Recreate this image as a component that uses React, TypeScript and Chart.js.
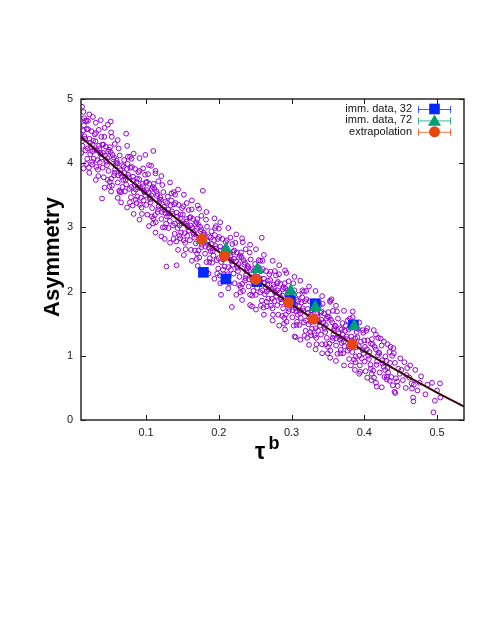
import React, { useEffect, useRef } from 'react';
import { Chart, registerables } from 'chart.js';

Chart.register(...registerables);

const X_MIN = 0.0106;
const X_MAX = 0.537;
const Y_MIN = 0;
const Y_MAX = 5;
const X_TICKS = [0.1, 0.2, 0.3, 0.4, 0.5];
const Y_TICKS = [0, 1, 2, 3, 4, 5];

const Y_TITLE = 'Asymmetry';
const X_TITLE_MAIN = 'τ';
const X_TITLE_SUP = 'b';

const LABELS = ['imm. data, 32', 'imm. data, 72', 'extrapolation'];

// fitted curve
const fitX = [0.0106, 0.05, 0.1, 0.15, 0.2, 0.25, 0.3, 0.35, 0.4, 0.45, 0.5, 0.537];
const fitY = [4.41, 4.012, 3.526, 3.062, 2.62, 2.199, 1.801, 1.425, 1.07, 0.738, 0.428, 0.21];

const imm32X = [0.1788, 0.2096, 0.2523, 0.2985, 0.3325, 0.385];
const imm32Y = [2.3, 2.196, 2.154, 1.86, 1.81, 1.48];
const imm72X = [0.1766, 0.21, 0.253, 0.2988, 0.3325, 0.386];
const imm72Y = [2.8, 2.66, 2.35, 2.01, 1.755, 1.46];
const extrapX = [0.1766, 0.2077, 0.251, 0.2958, 0.33, 0.3834];
const extrapY = [2.815, 2.555, 2.19, 1.833, 1.57, 1.18];

// scattered samples
const cloud: [number, number][] = [
  [0.012, 4.88], [0.016, 4.66], [0.0103, 4.45], [0.0171, 4.2], [0.0146, 4.59], [0.0118, 4.34], [0.0192, 4.07], [0.0155, 4.42], [0.0127, 4.27], [0.0184, 4.53], [0.0109, 4.16], [0.0163, 4.38], [0.0136, 4.51], [0.0197, 4.23], [0.0112, 4.39], [0.015, 4.7], [0.0178, 3.99],
  [0.027, 4.72], [0.0288, 4.21], [0.0221, 4.38], [0.0259, 4.02], [0.0205, 4.53], [0.0267, 4.29], [0.0233, 4.14], [0.0295, 4.45], [0.0215, 3.93], [0.0274, 4.35], [0.0242, 4.25], [0.0201, 4.66], [0.0281, 4.07], [0.0229, 4.32], [0.026, 4.18], [0.0249, 4.5],
  [0.0377, 4.67], [0.0395, 3.45], [0.0352, 4.27], [0.039, 4.09], [0.0311, 4.47], [0.0338, 3.9], [0.0376, 4.14], [0.0306, 4.34], [0.0365, 4.01], [0.0324, 4.2], [0.0386, 4.41], [0.0344, 3.8], [0.0399, 4.29], [0.033, 4.05], [0.037, 4.16], [0.0317, 3.94], [0.0357, 4.23],
  [0.0475, 4.6], [0.0403, 3.93], [0.0471, 4.08], [0.0446, 4.26], [0.0418, 3.78], [0.0492, 4.21], [0.0455, 4.02], [0.0427, 4.41], [0.0484, 3.88], [0.0409, 4.16], [0.0463, 3.97], [0.0436, 4.12], [0.0497, 3.64], [0.0412, 4.29], [0.045, 4.05], [0.0478, 4.18],
  [0.0514, 4.65], [0.0638, 3.55], [0.0588, 4.0], [0.0521, 3.76], [0.0559, 4.09], [0.0505, 4.25], [0.0567, 3.85], [0.0533, 3.65], [0.0595, 4.04], [0.0515, 4.17], [0.0574, 3.9], [0.0542, 4.13], [0.0501, 3.71], [0.0581, 3.96], [0.0529, 4.41], [0.056, 3.81], [0.0549, 4.06],
  [0.0652, 3.84], [0.069, 3.95], [0.0611, 3.7], [0.0638, 4.12], [0.0676, 3.63], [0.0606, 4.0], [0.0665, 3.79], [0.0624, 4.23], [0.0686, 3.74], [0.0644, 3.89], [0.0699, 4.05], [0.063, 3.57], [0.067, 3.97], [0.0617, 3.81], [0.0657, 3.39],
  [0.0727, 4.46], [0.0703, 3.85], [0.0771, 3.6], [0.0746, 3.99], [0.0718, 3.74], [0.0792, 3.47], [0.0755, 3.82], [0.0727, 3.67], [0.0784, 3.93], [0.0709, 3.56], [0.0763, 3.78], [0.0736, 3.91], [0.0797, 3.63], [0.0712, 3.79], [0.075, 4.1], [0.0778, 3.39],
  [0.0888, 3.62], [0.0821, 3.79], [0.0859, 3.43], [0.0805, 3.94], [0.0867, 3.7], [0.0833, 3.55], [0.0895, 3.86], [0.0815, 3.34], [0.0874, 3.76], [0.0842, 3.66], [0.0801, 4.07], [0.0881, 3.48], [0.0829, 3.73], [0.086, 3.59], [0.0849, 3.91],
  [0.099, 4.13], [0.0952, 3.68], [0.099, 3.5], [0.0911, 3.88], [0.0938, 3.31], [0.0976, 3.55], [0.0906, 3.75], [0.0965, 3.42], [0.0924, 3.61], [0.0986, 3.82], [0.0944, 3.21], [0.0999, 3.7], [0.093, 3.46], [0.097, 3.57], [0.0917, 3.35], [0.0957, 3.64],
  [0.11, 4.19], [0.107, 3.96], [0.1003, 3.35], [0.1071, 3.5], [0.1046, 3.68], [0.1018, 3.2], [0.1092, 3.63], [0.1055, 3.44], [0.1027, 3.83], [0.1084, 3.3], [0.1009, 3.58], [0.1063, 3.39], [0.1036, 3.54], [0.1097, 3.06], [0.1012, 3.71], [0.105, 3.47], [0.1078, 3.6],
  [0.1188, 3.43], [0.1121, 3.19], [0.1159, 3.52], [0.1105, 3.68], [0.1167, 3.28], [0.1133, 3.08], [0.1195, 3.47], [0.1115, 3.6], [0.1174, 3.33], [0.1142, 3.56], [0.1101, 3.14], [0.1181, 3.39], [0.1129, 3.84], [0.116, 3.24], [0.1149, 3.49],
  [0.1252, 3.27], [0.129, 3.38], [0.1211, 3.13], [0.1238, 3.55], [0.1276, 3.06], [0.1206, 3.43], [0.1265, 3.22], [0.1224, 3.66], [0.1286, 3.17], [0.1244, 3.32], [0.1299, 3.48], [0.123, 3.0], [0.127, 3.4], [0.1217, 3.24], [0.1257, 2.82],
  [0.178, 3.57], [0.1303, 3.28], [0.1371, 3.03], [0.1346, 3.42], [0.1318, 3.17], [0.1392, 2.9], [0.1355, 3.25], [0.1327, 3.1], [0.1384, 3.36], [0.1309, 2.99], [0.1363, 3.21], [0.1336, 3.34], [0.1397, 3.06], [0.1312, 3.22], [0.135, 3.53], [0.1378, 2.82],
  [0.1488, 3.06], [0.1421, 3.23], [0.1459, 2.87], [0.1405, 3.38], [0.1467, 3.14], [0.1433, 2.99], [0.1495, 3.3], [0.1415, 2.78], [0.1474, 3.2], [0.1442, 3.1], [0.1401, 3.51], [0.1481, 2.92], [0.1429, 3.17], [0.146, 3.03], [0.1449, 3.35],
  [0.1552, 3.13], [0.159, 2.95], [0.1511, 3.33], [0.1538, 2.76], [0.1576, 3.0], [0.1506, 3.2], [0.1565, 2.87], [0.1524, 3.06], [0.1586, 3.27], [0.1544, 2.66], [0.1599, 3.15], [0.153, 2.91], [0.157, 3.02], [0.1517, 2.8], [0.1557, 3.09],
  [0.1603, 2.8], [0.1671, 2.95], [0.1646, 3.13], [0.1618, 2.65], [0.1692, 3.08], [0.1655, 2.89], [0.1627, 3.28], [0.1684, 2.75], [0.1609, 3.03], [0.1663, 2.84], [0.1636, 2.99], [0.1697, 2.51], [0.1612, 3.16], [0.165, 2.92], [0.1678, 3.05],
  [0.128, 2.39], [0.142, 2.41], [0.1788, 2.88], [0.1721, 2.64], [0.1759, 2.97], [0.1705, 3.13], [0.1767, 2.73], [0.1733, 2.53], [0.1795, 2.92], [0.1715, 3.05], [0.1774, 2.78], [0.1742, 3.01], [0.1701, 2.59], [0.1781, 2.84], [0.1729, 3.29], [0.176, 2.69], [0.1749, 2.94],
  [0.1852, 2.73], [0.189, 2.84], [0.1811, 2.59], [0.1838, 3.01], [0.1876, 2.52], [0.1806, 2.89], [0.1865, 2.68], [0.1824, 3.12], [0.1886, 2.63], [0.1844, 2.78], [0.1899, 2.94], [0.183, 2.46], [0.187, 2.86], [0.1817, 2.7], [0.1857, 2.28],
  [0.1903, 2.74], [0.1971, 2.49], [0.1946, 2.88], [0.1918, 2.63], [0.1992, 2.36], [0.1955, 2.71], [0.1927, 2.56], [0.1984, 2.82], [0.1909, 2.45], [0.1963, 2.67], [0.1936, 2.8], [0.1997, 2.52], [0.1912, 2.68], [0.195, 2.99], [0.1978, 2.28],
  [0.203, 1.95], [0.218, 1.76], [0.2088, 2.53], [0.2021, 2.7], [0.2059, 2.34], [0.2005, 2.85], [0.2067, 2.61], [0.2033, 2.46], [0.2095, 2.77], [0.2015, 2.25], [0.2074, 2.67], [0.2042, 2.57], [0.2001, 2.98], [0.2081, 2.39], [0.2029, 2.64], [0.206, 2.5], [0.2049, 2.82],
  [0.2152, 2.6], [0.219, 2.42], [0.2111, 2.8], [0.2138, 2.23], [0.2176, 2.47], [0.2106, 2.67], [0.2165, 2.34], [0.2124, 2.53], [0.2186, 2.74], [0.2144, 2.13], [0.2199, 2.62], [0.213, 2.38], [0.217, 2.49], [0.2117, 2.27], [0.2157, 2.56],
  [0.2203, 2.28], [0.2271, 2.43], [0.2246, 2.61], [0.2218, 2.13], [0.2292, 2.56], [0.2255, 2.37], [0.2227, 2.76], [0.2284, 2.23], [0.2209, 2.51], [0.2263, 2.32], [0.2236, 2.47], [0.2297, 1.99], [0.2212, 2.64], [0.225, 2.4], [0.2278, 2.53],
  [0.2388, 2.36], [0.2321, 2.12], [0.2359, 2.45], [0.2305, 2.61], [0.2367, 2.21], [0.2333, 2.01], [0.2395, 2.4], [0.2315, 2.53], [0.2374, 2.26], [0.2342, 2.49], [0.2301, 2.07], [0.2381, 2.32], [0.2329, 2.77], [0.236, 2.17], [0.2349, 2.42],
  [0.2452, 2.22], [0.249, 2.33], [0.2411, 2.08], [0.2438, 2.5], [0.2476, 2.01], [0.2406, 2.38], [0.2465, 2.17], [0.2424, 2.61], [0.2486, 2.12], [0.2444, 2.27], [0.2499, 2.43], [0.243, 1.95], [0.247, 2.35], [0.2417, 2.19], [0.2457, 1.77],
  [0.259, 2.84], [0.2503, 2.24], [0.2571, 1.99], [0.2546, 2.38], [0.2518, 2.13], [0.2592, 1.86], [0.2555, 2.21], [0.2527, 2.06], [0.2584, 2.32], [0.2509, 1.95], [0.2563, 2.17], [0.2536, 2.3], [0.2597, 2.02], [0.2512, 2.18], [0.255, 2.49], [0.2578, 1.78],
  [0.2688, 2.03], [0.2621, 2.2], [0.2659, 1.84], [0.2605, 2.35], [0.2667, 2.11], [0.2633, 1.96], [0.2695, 2.27], [0.2615, 1.75], [0.2674, 2.17], [0.2642, 2.07], [0.2601, 2.48], [0.2681, 1.89], [0.2629, 2.14], [0.266, 2.0], [0.2649, 2.32],
  [0.2752, 2.11], [0.279, 1.93], [0.2711, 2.31], [0.2738, 1.74], [0.2776, 1.98], [0.2706, 2.18], [0.2765, 1.85], [0.2724, 2.04], [0.2786, 2.25], [0.2744, 1.64], [0.2799, 2.13], [0.273, 1.89], [0.277, 2.0], [0.2717, 1.78], [0.2757, 2.07],
  [0.2803, 1.79], [0.2871, 1.94], [0.2846, 2.12], [0.2818, 1.64], [0.2892, 2.07], [0.2855, 1.88], [0.2827, 2.27], [0.2884, 1.74], [0.2809, 2.02], [0.2863, 1.83], [0.2836, 1.98], [0.2897, 1.5], [0.2812, 2.15], [0.285, 1.91], [0.2878, 2.04],
  [0.2988, 1.88], [0.2921, 1.64], [0.2959, 1.97], [0.2905, 2.13], [0.2967, 1.73], [0.2933, 1.53], [0.2995, 1.92], [0.2915, 2.05], [0.2974, 1.78], [0.2942, 2.01], [0.2901, 1.59], [0.2981, 1.84], [0.2929, 2.29], [0.296, 1.69], [0.2949, 1.94],
  [0.3052, 1.74], [0.309, 1.85], [0.3011, 1.6], [0.3038, 2.02], [0.3076, 1.53], [0.3006, 1.9], [0.3065, 1.69], [0.3024, 2.13], [0.3086, 1.64], [0.3044, 1.79], [0.3099, 1.95], [0.303, 1.47], [0.307, 1.87], [0.3017, 1.71], [0.3057, 1.29],
  [0.355, 1.88], [0.384, 1.69], [0.413, 1.4], [0.3103, 1.77], [0.3171, 1.52], [0.3146, 1.91], [0.3118, 1.66], [0.3192, 1.39], [0.3155, 1.74], [0.3127, 1.59], [0.3184, 1.85], [0.3109, 1.48], [0.3163, 1.7], [0.3136, 1.83], [0.3197, 1.55], [0.3112, 1.71], [0.315, 2.02], [0.3178, 1.31],
  [0.3288, 1.56], [0.3221, 1.73], [0.3259, 1.37], [0.3205, 1.88], [0.3267, 1.64], [0.3233, 1.49], [0.3295, 1.8], [0.3215, 1.28], [0.3274, 1.7], [0.3242, 1.6], [0.3201, 2.01], [0.3281, 1.42], [0.3229, 1.67], [0.326, 1.53], [0.3249, 1.85],
  [0.3352, 1.65], [0.339, 1.47], [0.3311, 1.85], [0.3338, 1.28], [0.3376, 1.52], [0.3306, 1.72], [0.3365, 1.39], [0.3324, 1.58], [0.3386, 1.79], [0.3344, 1.18], [0.3399, 1.67], [0.333, 1.43], [0.337, 1.54], [0.3317, 1.32], [0.3357, 1.61],
  [0.3403, 1.33], [0.3471, 1.48], [0.3446, 1.66], [0.3418, 1.18], [0.3492, 1.61], [0.3455, 1.42], [0.3427, 1.81], [0.3484, 1.28], [0.3409, 1.56], [0.3463, 1.37], [0.3436, 1.52], [0.3497, 1.04], [0.3412, 1.69], [0.345, 1.45], [0.3478, 1.58],
  [0.3588, 1.43], [0.3521, 1.19], [0.3559, 1.52], [0.3505, 1.68], [0.3567, 1.28], [0.3533, 1.08], [0.3595, 1.47], [0.3515, 1.6], [0.3574, 1.33], [0.3542, 1.56], [0.3501, 1.14], [0.3581, 1.39], [0.3529, 1.84], [0.356, 1.24],
  [0.3652, 1.3], [0.369, 1.41], [0.3611, 1.16], [0.3638, 1.58], [0.3676, 1.09], [0.3606, 1.46], [0.3665, 1.25], [0.3624, 1.69], [0.3686, 1.2], [0.3644, 1.35], [0.3699, 1.51], [0.363, 1.03], [0.367, 1.43], [0.3617, 1.27],
  [0.3703, 1.33], [0.3771, 1.08], [0.3746, 1.47], [0.3718, 1.22], [0.3792, 0.95], [0.3755, 1.3], [0.3727, 1.15], [0.3784, 1.41], [0.3709, 1.04], [0.3763, 1.26], [0.3736, 1.39], [0.3797, 1.11], [0.3712, 1.27],
  [0.387, 0.78], [0.3888, 1.13], [0.3821, 1.3], [0.3859, 0.94], [0.3805, 1.45], [0.3867, 1.21], [0.3833, 1.06], [0.3895, 1.37], [0.3815, 0.85], [0.3874, 1.27], [0.3842, 1.17], [0.3801, 1.58], [0.3881, 0.99], [0.3829, 1.24],
  [0.3952, 1.22], [0.399, 1.04], [0.3911, 1.42], [0.3938, 0.85], [0.3976, 1.09], [0.3906, 1.29], [0.3965, 0.96], [0.3924, 1.15], [0.3986, 1.36], [0.3944, 0.75], [0.3999, 1.24], [0.393, 1.0],
  [0.4003, 0.91], [0.4071, 1.06], [0.4046, 1.24], [0.4018, 0.76], [0.4092, 1.19], [0.4055, 1.0], [0.4027, 1.39], [0.4084, 0.86], [0.4009, 1.14], [0.4063, 0.95], [0.4036, 1.1], [0.4097, 0.62],
  [0.417, 0.52], [0.4188, 1.01], [0.4121, 0.77], [0.4159, 1.1], [0.4105, 1.26], [0.4167, 0.86], [0.4133, 0.66], [0.4195, 1.05], [0.4115, 1.18], [0.4174, 0.91], [0.4142, 1.14], [0.4101, 0.72],
  [0.424, 0.51], [0.4252, 0.88], [0.429, 0.99], [0.4211, 0.74], [0.4238, 1.16], [0.4276, 0.67], [0.4206, 1.04], [0.4265, 0.83], [0.4224, 1.27], [0.4286, 0.78], [0.4244, 0.93],
  [0.435, 0.61], [0.436, 1.14], [0.431, 0.67], [0.4303, 0.92], [0.4371, 0.67], [0.4346, 1.06], [0.4318, 0.81], [0.4392, 0.54], [0.4355, 0.89], [0.4327, 0.74], [0.4384, 1.0], [0.4309, 0.63],
  [0.44, 1.12], [0.4425, 0.42], [0.4488, 0.72], [0.4421, 0.89], [0.4459, 0.53], [0.4405, 1.04], [0.4467, 0.8], [0.4433, 0.65], [0.4495, 0.96], [0.4415, 0.44],
  [0.459, 0.81], [0.458, 0.7], [0.453, 0.62], [0.455, 0.9], [0.451, 0.78], [0.457, 0.5],
  [0.465, 0.57], [0.4655, 0.49], [0.467, 0.35], [0.4675, 0.29], [0.47, 0.78], [0.462, 0.66], [0.468, 0.55], [0.463, 0.85],
  [0.476, 0.58], [0.473, 0.46], [0.478, 0.68], [0.484, 0.4], [0.487, 0.55],
  [0.493, 0.58], [0.504, 0.57], [0.5, 0.46], [0.5045, 0.35], [0.495, 0.12], [0.497, 0.3],
];

// wider-spread samples at the edges of the band
const cloudEdge: [number, number][] = [
  [0.014, 4.8], [0.014, 3.92], [0.022, 4.76], [0.022, 3.85], [0.031, 4.63], [0.031, 3.74], [0.043, 4.55], [0.043, 3.62],
  [0.052, 4.48], [0.052, 3.56], [0.061, 4.36], [0.061, 3.46], [0.074, 4.27], [0.074, 3.31], [0.083, 4.15], [0.083, 3.21],
  [0.091, 4.08], [0.091, 3.12], [0.104, 3.97], [0.104, 3.02], [0.113, 3.88], [0.113, 2.92], [0.121, 3.8], [0.121, 2.86],
  [0.133, 3.7], [0.133, 2.76], [0.144, 3.59], [0.144, 2.65], [0.152, 3.51], [0.152, 2.57], [0.163, 3.42], [0.163, 2.48],
  [0.171, 3.34], [0.171, 2.4], [0.183, 3.24], [0.183, 2.31], [0.194, 3.14], [0.194, 2.2], [0.202, 3.08], [0.202, 2.13],
  [0.213, 2.99], [0.213, 2.05], [0.224, 2.89], [0.224, 1.95], [0.232, 2.83], [0.232, 1.87], [0.243, 2.73], [0.243, 1.79],
  [0.251, 2.66], [0.251, 1.72], [0.262, 2.57], [0.262, 1.64], [0.274, 2.48], [0.274, 1.55], [0.283, 2.41], [0.283, 1.47],
  [0.291, 2.33], [0.291, 1.41], [0.304, 2.23], [0.304, 1.3], [0.312, 2.17], [0.312, 1.25], [0.324, 2.08], [0.324, 1.17],
  [0.333, 2.01], [0.333, 1.1], [0.342, 1.93], [0.342, 1.04], [0.353, 1.86], [0.353, 0.97], [0.361, 1.78], [0.361, 0.92],
  [0.372, 1.7], [0.372, 0.85], [0.384, 1.6], [0.393, 1.52], [0.393, 0.72], [0.404, 1.43], [0.404, 0.66], [0.416, 1.33],
  [0.416, 0.58], [0.427, 1.22], [0.018, 4.66], [0.026, 3.98], [0.035, 4.52], [0.047, 3.74], [0.057, 4.3], [0.066, 3.55],
  [0.078, 4.1], [0.087, 3.38], [0.096, 3.92], [0.108, 3.17], [0.117, 3.72], [0.126, 3.0], [0.138, 3.55], [0.147, 2.83],
  [0.156, 3.38], [0.167, 2.64], [0.176, 3.18], [0.187, 2.46], [0.196, 3.02], [0.207, 2.27], [0.216, 2.84], [0.228, 2.1],
  [0.237, 2.66], [0.246, 1.94], [0.257, 2.48], [0.266, 1.77], [0.277, 2.32], [0.287, 1.62], [0.296, 2.16], [0.307, 1.48],
  [0.317, 2.0], [0.327, 1.32], [0.337, 1.85], [0.347, 1.18], [0.357, 1.7], [0.367, 1.04], [0.377, 1.55], [0.388, 0.9],
  [0.398, 1.4], [0.409, 0.8], [0.419, 1.28], [0.432, 1.18], [0.445, 0.6],
];

const COLORS = {
  cloud: '#9400d3',
  fit: '#3a0808',
  imm32: '#0028ff',
  imm72: '#009e73',
  extrap: '#e8470f',
};

const FONT = '"Liberation Sans", Arial, sans-serif';

function drawMarker(ctx: CanvasRenderingContext2D, style: string, x: number, y: number, color: string) {
  ctx.fillStyle = color;
  ctx.beginPath();
  if (style === 'rect') {
    ctx.rect(x - 5.3, y - 5.3, 10.6, 10.6);
  } else if (style === 'triangle') {
    const r = 7.5;
    ctx.moveTo(x, y - r);
    ctx.lineTo(x + r * 0.866, y + r / 2);
    ctx.lineTo(x - r * 0.866, y + r / 2);
    ctx.closePath();
  } else {
    ctx.arc(x, y, 5.5, 0, Math.PI * 2);
  }
  ctx.fill();
}

const decorPlugin = {
  id: 'decor',
  afterDatasetsDraw(chart: any) {
    const { ctx, chartArea: a, scales } = chart;
    const xs = scales.x;
    const ys = scales.y;
    ctx.save();
    // frame
    ctx.strokeStyle = '#1a1a1a';
    ctx.lineWidth = 1.4;
    ctx.strokeRect(a.left, a.top, a.right - a.left, a.bottom - a.top);
    // inward ticks on all sides
    ctx.lineWidth = 1;
    ctx.beginPath();
    X_TICKS.forEach((v) => {
      const px = Math.round(xs.getPixelForValue(v)) + 0.5;
      ctx.moveTo(px, a.bottom);
      ctx.lineTo(px, a.bottom - 5);
      ctx.moveTo(px, a.top);
      ctx.lineTo(px, a.top + 5);
    });
    Y_TICKS.forEach((v) => {
      const py = Math.round(ys.getPixelForValue(v)) + 0.5;
      ctx.moveTo(a.left, py);
      ctx.lineTo(a.left + 5, py);
      ctx.moveTo(a.right, py);
      ctx.lineTo(a.right - 5, py);
    });
    ctx.stroke();

    // legend
    const entries = [
      { label: LABELS[0], color: COLORS.imm32, style: 'rect' },
      { label: LABELS[1], color: COLORS.imm72, style: 'triangle' },
      { label: LABELS[2], color: COLORS.extrap, style: 'circle' },
    ];
    const textRight = a.right - 52;
    const x0 = a.right - 46;
    const x1 = a.right - 13;
    const xm = (x0 + x1) / 2;
    entries.forEach((e, i) => {
      const yy = a.top + 10 + i * 11.4;
      ctx.fillStyle = '#111';
      ctx.font = `11px ${FONT}`;
      ctx.textAlign = 'right';
      ctx.textBaseline = 'middle';
      ctx.fillText(e.label, textRight, yy);
      ctx.strokeStyle = e.color;
      ctx.globalAlpha = 0.75;
      ctx.lineWidth = 1;
      ctx.beginPath();
      ctx.moveTo(x0, yy + 0.5);
      ctx.lineTo(x1, yy + 0.5);
      ctx.moveTo(x0 + 0.5, yy - 3);
      ctx.lineTo(x0 + 0.5, yy + 4);
      ctx.moveTo(x1 - 0.5, yy - 3);
      ctx.lineTo(x1 - 0.5, yy + 4);
      ctx.stroke();
      ctx.globalAlpha = 1;
      drawMarker(ctx, e.style, xm, yy + (e.style === 'triangle' ? 1.5 : 0), e.color);
    });

    // y axis title
    ctx.save();
    ctx.fillStyle = '#000';
    ctx.font = `bold 22px ${FONT}`;
    ctx.translate(58.5, 257);
    ctx.rotate(-Math.PI / 2);
    ctx.textAlign = 'center';
    ctx.textBaseline = 'alphabetic';
    ctx.fillText(Y_TITLE, 0, 0);
    ctx.restore();

    // x axis title tau^b
    ctx.fillStyle = '#000';
    ctx.textAlign = 'left';
    ctx.textBaseline = 'alphabetic';
    ctx.font = `bold 23px ${FONT}`;
    ctx.fillText(X_TITLE_MAIN, 255, 459);
    ctx.font = `bold 18px ${FONT}`;
    ctx.fillText(X_TITLE_SUP, 268.5, 449);
    ctx.restore();
  },
};

export default function App() {
  const ref = useRef<HTMLCanvasElement | null>(null);

  useEffect(() => {
    if (!ref.current) return;
    const toPts = (xs: number[], ys: number[]) => xs.map((x, i) => ({ x, y: ys[i] }));
    const samples = cloud.concat(cloudEdge).map(([x, y]) => ({ x, y }));
    const chart = new Chart(ref.current, {
      type: 'scatter',
      data: {
        datasets: [
          {
            label: LABELS[2],
            data: toPts(extrapX, extrapY),
            pointStyle: 'circle',
            pointRadius: 5.5,
            pointBackgroundColor: COLORS.extrap,
            pointBorderColor: COLORS.extrap,
            pointBorderWidth: 0,
            order: 0,
          },
          {
            label: LABELS[1],
            data: toPts(imm72X, imm72Y),
            pointStyle: 'triangle',
            pointRadius: 7.5,
            pointBackgroundColor: COLORS.imm72,
            pointBorderColor: COLORS.imm72,
            pointBorderWidth: 0,
            order: 1,
          },
          {
            label: LABELS[0],
            data: toPts(imm32X, imm32Y),
            pointStyle: 'rect',
            pointRadius: 7.5,
            pointBackgroundColor: COLORS.imm32,
            pointBorderColor: COLORS.imm32,
            pointBorderWidth: 0,
            order: 2,
          },
          {
            label: 'fit',
            data: toPts(fitX, fitY),
            showLine: true,
            cubicInterpolationMode: 'monotone',
            borderColor: COLORS.fit,
            borderWidth: 2,
            pointRadius: 0,
            order: 3,
          } as any,
          {
            label: 'samples',
            data: samples,
            pointStyle: 'circle',
            pointRadius: 2.4,
            pointBorderWidth: 1,
            pointBorderColor: COLORS.cloud,
            pointBackgroundColor: 'rgba(0,0,0,0)',
            order: 4,
          },
        ],
      },
      options: {
        animation: false,
        responsive: false,
        devicePixelRatio: 1,
        events: [],
        layout: { padding: { left: 0, top: 99, right: 27, bottom: 175 } },
        plugins: {
          legend: { display: false },
          tooltip: { enabled: false },
        },
        scales: {
          x: {
            type: 'linear',
            min: X_MIN,
            max: X_MAX,
            afterFit: (s: any) => {
              s.height = 40;
            },
            afterBuildTicks: (s: any) => {
              s.ticks = X_TICKS.map((v) => ({ value: v }));
            },
            grid: { display: false, drawTicks: false },
            border: { display: false },
            ticks: {
              padding: 6,
              color: '#1a1a1a',
              font: { family: FONT, size: 11 },
              maxRotation: 0,
              callback: (v: any) => Number(v).toFixed(1),
            },
          },
          y: {
            type: 'linear',
            min: Y_MIN,
            max: Y_MAX,
            afterFit: (s: any) => {
              s.width = 81;
            },
            afterBuildTicks: (s: any) => {
              s.ticks = Y_TICKS.map((v) => ({ value: v }));
            },
            grid: { display: false, drawTicks: false },
            border: { display: false },
            ticks: {
              padding: 8,
              color: '#1a1a1a',
              font: { family: FONT, size: 11 },
              callback: (v: any) => String(v),
            },
          },
        },
      },
      plugins: [decorPlugin],
    } as any);
    return () => chart.destroy();
  }, []);

  return (
    <div style={{ position: 'fixed', left: 0, top: 0, width: 491, height: 635, background: '#fff' }}>
      <canvas ref={ref} width={491} height={635} style={{ display: 'block', width: 491, height: 635 }} />
    </div>
  );
}
